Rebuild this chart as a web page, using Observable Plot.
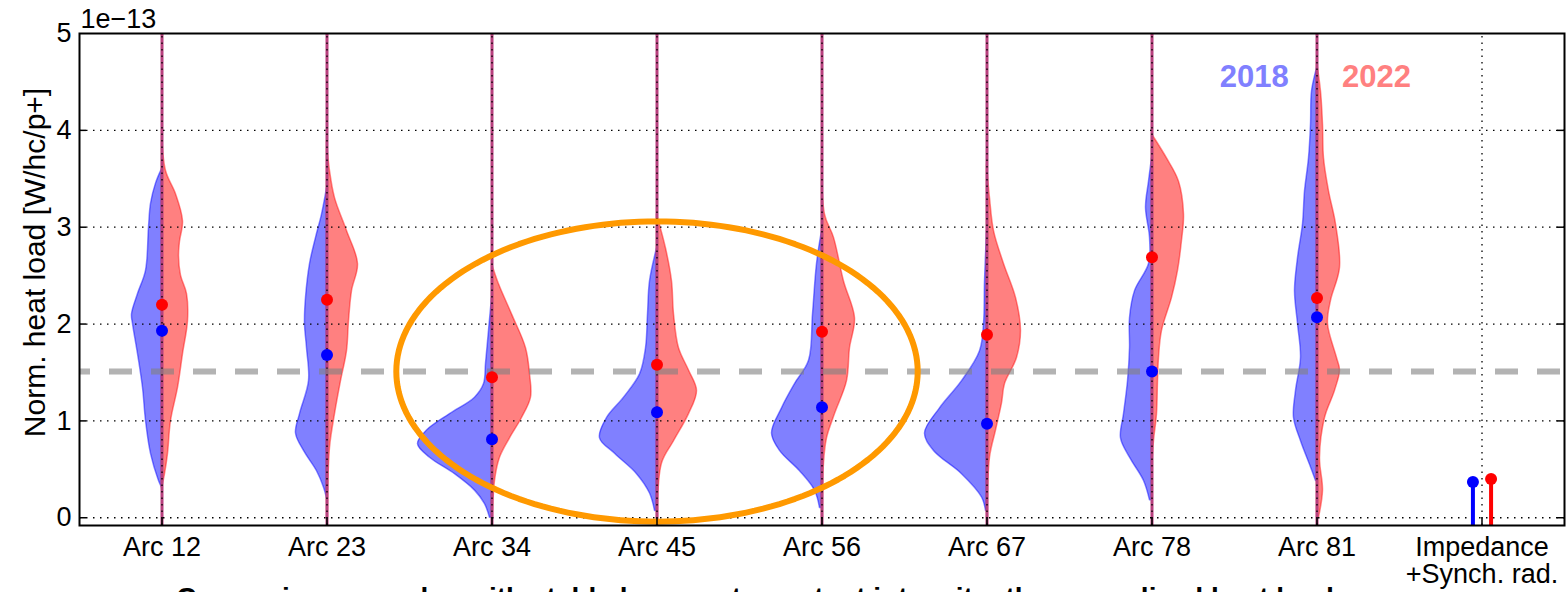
<!DOCTYPE html>
<html>
<head>
<meta charset="utf-8">
<script src="https://cdn.jsdelivr.net/npm/d3@7"></script>
<script src="https://cdn.jsdelivr.net/npm/@observablehq/plot@0.6"></script>
<style>
  html, body { margin: 0; padding: 0; background: #fff; overflow: hidden; }
  #wrap { position: relative; width: 1567px; height: 592px; }
  #caption { position: absolute; left: 0; top: 584px; width: 1510px; text-align: center;
    font-family: 'Liberation Sans', Arial, sans-serif; font-weight: bold; font-size: 28px; line-height: 1; white-space: nowrap; }
</style>
</head>
<body>
<div id="wrap"><div id="chart"></div><div id="caption">Comparison samples with stable beams at constant intensity: the normalized heat load</div></div>
<script>
// ---- data ----
const tickLabels = ["Arc 12", "Arc 23", "Arc 34", "Arc 45", "Arc 56", "Arc 67", "Arc 78", "Arc 81", "Impedance\n+Synch. rad."];
const seriesNames = ["2018", "2022"];
// violin density profiles: [value (1e-13 W/hc/p+), relative density]
const profiles2018 = [
  [[0.31,0],[0.38,3],[0.66,11],[1.0,16],[1.34,19],[1.69,24],[2.0,29],[2.1,30],[2.31,24],[2.55,16],[3.0,13],[3.24,11],[3.45,6],[3.6,0]],
  [[0.2,0],[0.31,3],[0.48,10],[0.69,23],[0.87,31],[1.07,27],[1.41,18],[1.75,20],[2.0,22],[2.27,21],[2.62,17],[2.89,11],[3.13,5],[3.4,0]],
  [[0.0,2],[0.14,7],[0.28,17],[0.45,37],[0.62,62],[0.76,74],[0.9,65],[1.07,42],[1.24,17],[1.38,8],[1.59,6],[1.93,3],[2.27,0]],
  [[0.07,2],[0.25,7],[0.45,20],[0.66,42],[0.82,57],[1.03,50],[1.24,33],[1.48,17],[1.75,11],[2.1,9],[2.44,7],[2.78,0]],
  [[0.1,2],[0.28,7],[0.48,22],[0.69,42],[0.87,50],[1.13,40],[1.38,27],[1.62,13],[2.1,9],[2.62,5],[2.96,0]],
  [[0.07,1],[0.21,5],[0.45,25],[0.69,53],[0.87,62],[1.13,47],[1.41,25],[1.72,7],[2.0,3],[2.44,2],[2.96,0]],
  [[0.18,2],[0.38,8],[0.62,22],[0.82,31],[1.07,28],[1.41,24],[1.75,22],[2.06,22],[2.34,17],[2.62,3],[2.89,2],[3.2,6],[3.47,3],[3.71,0]],
  [[0.38,1],[0.52,6],[0.79,16],[1.03,23],[1.31,21],[1.65,16],[2.0,19],[2.34,22],[2.68,19],[3.03,14],[3.37,12],[3.71,8],[4.06,6],[4.4,5],[4.64,0]]
];
const profiles2022 = [
  [[0.3,0],[0.45,3],[0.66,6],[1.0,9],[1.34,16],[1.69,21],[2.03,26],[2.31,25],[2.5,19],[2.7,17],[2.85,18],[3.06,21],[3.34,14],[3.58,4],[4.0,0]],
  [[0.0,1],[0.72,3],[1.07,8],[1.41,14],[1.72,20],[2.03,22],[2.34,25],[2.62,31],[2.96,20],[3.3,8],[3.58,3],[3.89,0]],
  [[0.0,1],[0.38,3],[0.62,8],[0.82,18],[1.03,30],[1.24,39],[1.48,38],[1.75,34],[2.1,20],[2.41,7],[2.62,0]],
  [[0.0,1],[0.56,5],[0.79,17],[1.07,32],[1.31,40],[1.52,32],[1.75,22],[2.1,17],[2.44,15],[2.78,9],[3.13,0]],
  [[0.0,1],[0.56,2],[0.82,5],[1.07,13],[1.41,25],[1.75,28],[2.06,33],[2.44,22],[2.89,12],[3.13,3],[3.75,0]],
  [[0.0,1],[0.62,3],[0.9,9],[1.18,15],[1.38,18],[1.65,30],[1.93,34],[2.27,29],[2.62,17],[2.96,7],[3.3,3],[3.65,0]],
  [[0.5,0],[0.79,2],[1.07,5],[1.41,6],[1.65,7],[1.93,10],[2.27,20],[2.55,26],[2.86,30],[3.13,32],[3.47,27],[3.71,15],[3.96,0]],
  [[0.0,2],[0.28,6],[0.62,3],[1.03,8],[1.31,18],[1.52,23],[1.65,20],[2.0,11],[2.24,14],[2.58,23],[3.03,19],[3.37,12],[3.71,7],[4.06,6],[4.4,4],[4.71,0]]
];
const medians2018 = [1.93, 1.68, 0.81, 1.09, 1.14, 0.97, 1.51, 2.07];
const medians2022 = [2.20, 2.25, 1.45, 1.58, 1.92, 1.89, 2.69, 2.27];
const impedance2018 = 0.37;
const impedance2022 = 0.40;
const referenceLevel = 1.51;
const yTicks = [0, 1, 2, 3, 4, 5];

// ---- build tables ----
const k = 1 / 165; // density -> x units
const blue = "#0000ff", red = "#ff0000";
const violin = [];
profiles2018.forEach((p, i) => p.forEach(([v, d]) => violin.push({arc: i, series: seriesNames[0], y: v, x1: i, x2: i - d * k})));
profiles2022.forEach((p, i) => p.forEach(([v, d]) => violin.push({arc: i, series: seriesNames[1], y: v, x1: i, x2: i + d * k})));
const dots = [];
medians2018.forEach((v, i) => dots.push({x: i, y: v, c: blue}));
medians2022.forEach((v, i) => dots.push({x: i, y: v, c: red}));
const stems = [
  {x: 8 - 0.055, y: impedance2018, c: blue},
  {x: 8 + 0.055, y: impedance2022, c: red}
];
const ellipse = d3.range(0, 361, 2).map(a => ({x: 3 + 1.58 * Math.cos(a * Math.PI / 180), y: 1.51 + 1.55 * Math.sin(a * Math.PI / 180)}));
const arcIdx = d3.range(8);
const allIdx = d3.range(9);
const yMin = -0.08;

const chart = Plot.plot({
  width: 1567, height: 592,
  marginLeft: 79, marginRight: 3, marginTop: 33, marginBottom: 67,
  x: {domain: [-0.5, 8.5]},
  y: {domain: [yMin, 5]},
  style: {fontFamily: "'Liberation Sans', Arial, sans-serif", fontSize: "27px", color: "black", background: "white"},
  marks: [
    // violins
    Plot.areaX(violin.filter(d => d.series === "2018"), {y: "y", x1: "x1", x2: "x2", z: "arc", fill: "#8080ff", stroke: blue, strokeOpacity: 0.45, strokeWidth: 1.5, curve: "catmull-rom"}),
    Plot.areaX(violin.filter(d => d.series === "2022"), {y: "y", x1: "x1", x2: "x2", z: "arc", fill: "#ff8080", stroke: red, strokeOpacity: 0.45, strokeWidth: 1.5, curve: "catmull-rom"}),
    // thin violin tails along the centre
    Plot.ruleX(arcIdx, {x: d => d, y1: yMin, y2: 5, stroke: "#b8407e", strokeWidth: 3}),
    // grid
    Plot.ruleX(allIdx, {x: d => d, y1: yMin, y2: 5, stroke: "black", strokeWidth: 1.3, strokeDasharray: "1.5,5"}),
    Plot.ruleY([0, 1, 2, 3, 4], {y: d => d, stroke: "black", strokeWidth: 1.3, strokeDasharray: "1.5,5.5"}),
    // reference level
    Plot.ruleY([referenceLevel], {y: d => d, stroke: "gray", strokeOpacity: 0.6, strokeWidth: 6, strokeDasharray: "23,19", strokeDashoffset: 12}),
    // highlight ellipse
    Plot.line(ellipse, {x: "x", y: "y", stroke: "#ff9900", strokeWidth: 6}),
    // impedance stems
    Plot.ruleX(stems, {x: "x", y1: yMin, y2: "y", stroke: "c", strokeWidth: 4}),
    Plot.dot(stems, {x: "x", y: "y", fill: "c", r: 6}),
    // medians
    Plot.dot(dots, {x: "x", y: "y", fill: "c", r: 6}),
    // inward ticks
    Plot.ruleY([0, 1, 2, 3, 4], {y: d => d, x1: -0.5, x2: -0.5 + 7 * k, stroke: "black", strokeWidth: 1.5}),
    Plot.ruleY([0, 1, 2, 3, 4], {y: d => d, x1: 8.5, x2: 8.5 - 7 * k, stroke: "black", strokeWidth: 1.5}),
    Plot.ruleX(allIdx, {x: d => d, y1: yMin, y2: yMin + 0.08, stroke: "black", strokeWidth: 1.5}),
    // legend
    Plot.text([seriesNames[0]], {x: 6.62, y: 4.45, text: d => d, fill: "#8080ff", fontWeight: "bold", fontSize: 31, lineAnchor: "bottom"}),
    Plot.text([seriesNames[1]], {x: 7.36, y: 4.45, text: d => d, fill: "#ff8080", fontWeight: "bold", fontSize: 31, lineAnchor: "bottom"}),
    // axes
    Plot.axisX(allIdx, {tickFormat: i => tickLabels[i], tickSize: 0, tickPadding: 11, label: null, fontSize: 27}),
    Plot.axisY(yTicks, {tickFormat: d3.format("d"), tickSize: 0, tickPadding: 8, label: null, fontSize: 27}),
    Plot.text(["1e\u221213"], {frameAnchor: "top-left", text: d => d, textAnchor: "start", lineAnchor: "bottom", dx: 1, dy: -6, fontSize: 27}),
    Plot.text(["Norm. heat load [W/hc/p+]"], {frameAnchor: "left", text: d => d, textAnchor: "middle", lineAnchor: "middle", rotate: -90, dx: -44, dy: -17, fontSize: 30}),
    Plot.frame({stroke: "black", strokeWidth: 2})
  ]
});
document.getElementById("chart").appendChild(chart);
</script>
</body>
</html>
